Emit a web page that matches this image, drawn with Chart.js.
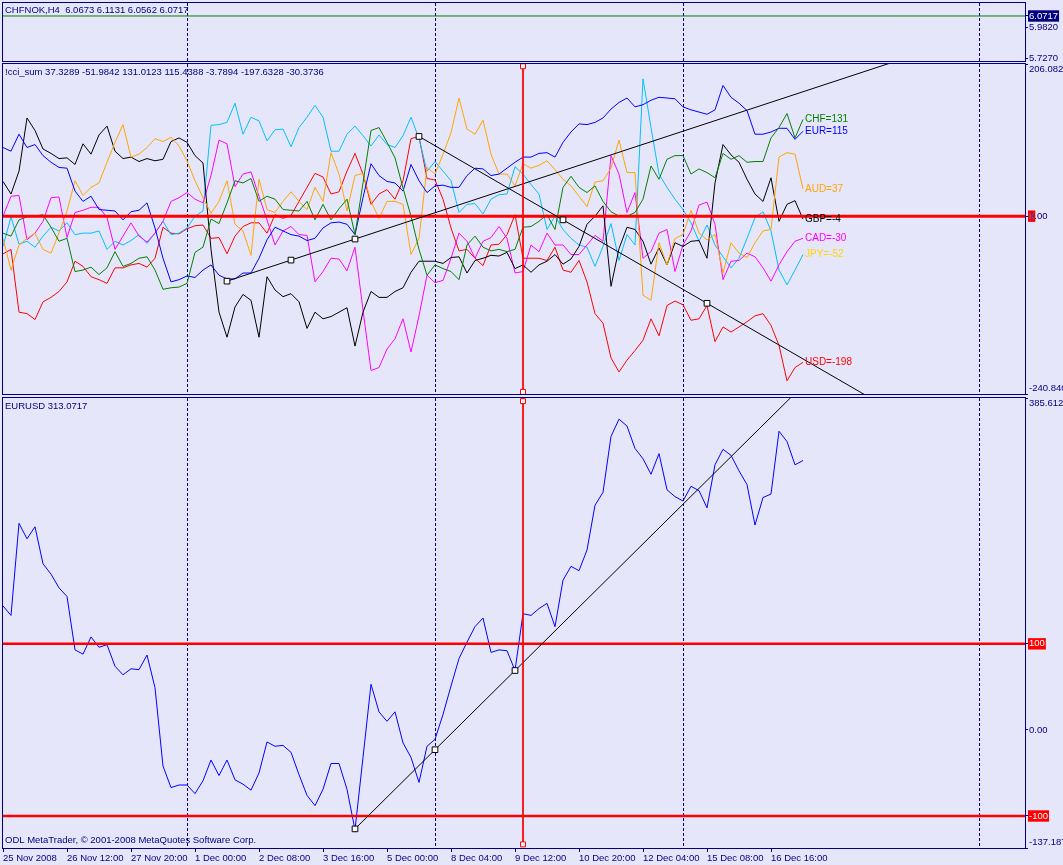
<!DOCTYPE html>
<html>
<head>
<meta charset="utf-8">
<title>CHFNOK,H4 - cci_sum / EURUSD</title>
<script src="https://cdn.jsdelivr.net/npm/chart.js@4.4.1/dist/chart.umd.min.js"></script>
<style>
  html, body { margin: 0; padding: 0; background: #e6e6fa; }
  body { width: 1063px; height: 865px; position: relative; overflow: hidden; }
  canvas { position: absolute; left: 0; }
</style>
</head>
<body>
<canvas id="pane-price" width="1063" height="62" style="top:0"></canvas>
<canvas id="pane-cci" width="1063" height="334" style="top:62px"></canvas>
<canvas id="pane-eurusd" width="1063" height="469" style="top:396px"></canvas>
<script>
// --- data (one value per H4 bar, bar 0 = 25 Nov 2008) ---

const timeTickBars = [0, 8, 16, 24, 32, 40, 48, 56, 64, 72, 80, 88, 96];
const timeTickLabels = ['25 Nov 2008', '26 Nov 12:00', '27 Nov 20:00', '1 Dec 00:00', '2 Dec 08:00', '3 Dec 16:00',
  '5 Dec 00:00', '8 Dec 04:00', '9 Dec 12:00', '10 Dec 20:00', '12 Dec 04:00', '15 Dec 08:00', '16 Dec 16:00'];
const weekSeparators = [23, 54, 85, 122];

// CHFNOK pane
const chfnokBid = 6.0717;
const priceTickValues = [6.0717, 5.9820, 5.7270];
const priceTickLabels = ['6.0717', '5.9820', '5.7270'];

// !cci_sum pane
const currencies = ['CHF', 'EUR', 'AUD', 'GBP', 'CAD', 'JPY', 'USD'];
const cciCHF = [-23, -27, -5, -1, 0, 2, -15, -34, -30, -75, -73, -69, -79, -70, -48, -68, -64, -57, -55, -73,
  -99, -97, -96, -91, -49, -42, -4, -10, 18, 48, 45, 51, 20, 27, 23, 9, 8, 7, 20, -5,
  16, -5, 10, 23, -25, 45, 116, 120, 100, 79, 38, 0, -45, -80, -66, -71, -75, -86, -39, -27,
  -42, -47, -45, -48, -45, -15, -14, -7, 2, -18, 39, 54, 39, 32, 41, 20, 6, 0, 0, 5,
  23, 68, 50, 77, 82, 82, 57, 64, 59, 52, 85, 77, 82, 73, 74, 74, 106, 120, 139, 106, 131];
const cciEUR = [93, 88, 111, 93, 97, 82, 73, 66, 65, 34, 20, 27, 9, 8, 7, -5, 6, 8, 18, -16,
  -57, -89, -86, -81, -83, -73, -66, -80, -85, -85, -77, -77, -57, -32, -15, -20, -25, -27, -33, -30,
  -16, -9, -8, -11, -25, 25, 71, 55, 47, 45, 34, 70, 48, 32, 41, 42, 39, 39, 55, 65,
  64, 55, 57, 65, 73, 80, 80, 85, 86, 80, 100, 114, 125, 124, 127, 133, 145, 154, 160, 148,
  151, 157, 161, 160, 159, 148, 144, 141, 138, 144, 177, 161, 153, 143, 111, 111, 114, 119, 119, 104, 115];
const cciAUD = [-30, -73, -39, -30, -23, -45, -50, -23, 7, 48, 28, 39, 45, 73, 100, 124, 80, 84, 93, 105,
  101, 107, 95, 75, 48, 25, 4, 20, 48, -11, -20, -53, 50, 9, 5, 20, 33, 20, 9, 39,
  20, 86, 57, 7, 55, 58, 20, -3, 20, 20, 16, -52, -30, 66, 57, 84, 113, 160, 118, 111,
  130, 84, 57, 57, 41, 71, 65, 69, 75, 63, 50, 41, 27, 13, 46, 48, 65, 103, 59, 59,
  -107, -114, -36, -66, -30, -25, 8, -23, -32, -25, -77, -36, -50, -56, -36, -20, -18, 80, 86, 84, 37];
const cciGBP = [47, 30, 61, 133, 116, 91, 85, 78, 79, 70, 98, 84, 110, 122, 88, 78, 80, 74, 78, 75,
  77, 101, 106, 100, 82, 72, -45, -130, -164, -123, -106, -114, -164, -82, -100, -109, -105, -116, -152, -130,
  -139, -136, -130, -124, -176, -130, -102, -110, -110, -102, -97, -76, -61, -61, -61, -64, -56, -55, -77, -60,
  -57, -53, -54, -49, -71, -66, -76, -66, -61, -52, -65, -58, -41, -11, 0, 14, -95, -44, -15, -18,
  -34, -65, -43, -66, -36, -41, -34, -33, -57, 45, 97, 83, 73, 50, 30, 20, 52, -7, 16, 21, -4];
const cciCAD = [0, 27, 28, -32, -23, -7, 25, 26, -29, 5, 8, 12, 12, -2, -45, -27, -9, -27, -35, -23,
  -7, 20, 25, 32, 23, 18, 55, 103, 98, 40, 57, 60, 27, -5, -39, -20, -14, -25, -26, -89,
  -75, -57, -58, -74, -42, -127, -209, -205, -180, -166, -139, -184, -135, -80, -90, -87, -57, -23, -34, -57,
  -34, -29, -14, -30, -77, -75, -39, -48, -23, -39, -39, -52, -52, -39, -26, -34, 82, 57, 5, 32,
  -57, -48, -23, -18, -75, -39, -20, 15, 19, -11, -86, -61, -60, -50, -55, -70, -88, -66, -48, -34, -30];
const cciJPY = [-41, -1, -38, -34, -42, -27, -15, -20, -9, -25, -23, -23, -20, -45, -34, -39, -33, -25, -37, -23,
  -7, -25, -23, -16, 0, 7, 123, 124, 127, 153, 111, 134, 129, 102, 117, 118, 94, 120, 134, 150,
  134, 88, 88, 111, 122, 109, 95, 110, 97, 93, 109, 134, 105, 61, 74, 61, 48, 5, 16, 17,
  3, 23, 29, 30, 67, 57, 43, 30, -18, 0, -18, -30, -39, -42, -68, -41, -10, -60, -25, -39,
  186, 120, 57, 39, 23, 9, -9, -34, -12, -39, -55, -70, -57, -30, -2, 6, -20, -73, -93, -73, -52];
const cciUSD = [-51, -45, -130, -132, -140, -116, -110, -102, -89, -61, -68, -82, -86, -91, -70, -70, -66, -64, -69, -57,
  -15, -23, -24, -17, -13, -12, -30, -29, -51, -27, -14, -9, -9, -23, 2, -3, 1, 20, 39, 58,
  53, 30, 33, 61, 85, 57, 16, 30, 36, 23, 48, 105, 108, 51, 49, 23, -16, -47, -45, -57,
  -67, -39, -38, -25, 2, -57, -57, -57, -60, -42, -73, -76, -60, -89, -132, -145, -192, -211, -195, -182,
  -168, -139, -162, -121, -115, -120, -141, -139, -121, -170, -150, -157, -150, -143, -135, -132, -148, -175, -223, -205, -198];
const cciLevels = [0];
const cciTickValues = [206.0825, 0, 0, -240.840];
const cciTickLabels = [['', '206.0825'], '0', '0.00', ['-240.840', '']];
// trend lines: [bar, value] anchors
const cciRayUp = [[28, -88], [44, -31]];
const cciRayDown = [[52, 108], [88, -118]];
const cursorBar = 65;
const cciCursorEnds = [203, -238];

// EURUSD pane
const eurusd = [144, 133, 240, 222, 236, 193, 181, 165, 155, 93, 88, 108, 96, 99, 74, 64, 71, 70, 87, 49,
  -42, -67, -64, -64, -74, -59, -35, -53, -35, -58, -63, -70, -50, -14, -19, -18, -26, -52, -76, -88,
  -69, -39, -39, -69, -116, -32, 53, 21, 10, 21, -15, -32, -61, -19, -11, 18, 51, 83, 102, 120,
  130, 90, 93, 92, 69, 135, 133, 141, 147, 120, 174, 190, 185, 209, 261, 276, 341, 361, 353, 327,
  315, 297, 321, 279, 271, 266, 283, 278, 258, 308, 326, 319, 301, 285, 238, 270, 274, 347, 335, 308, 313];
const eurLevels = [100, -100];
const eurTickValues = [385.6122, 100, 0, -100, -137.1873];
const eurTickLabels = [['', '385.6122'], '100', '0.00', '-100', ['-137.1873', '']];
const eurRay = [[44, -115], [64, 69]];
const eurCursorEnds = [382, -133];

// --- look ---
const NAVY = '#000080';
const X_MAX = 127.75;
const AXIS_W = 38;
const FONT = 'Tahoma, "Liberation Sans", Arial, sans-serif';
const lineColors = ['#008000', '#0000ff', '#ffa500', '#000000', '#ff00ff', '#00bfff', '#ff0000'];
const tagColors = ['#008000', '#0000ff', '#ffa500', '#000000', '#ff00ff', '#ffd700', '#ff0000'];
const priceTickBoxes = [NAVY, null, null];
const cciTickBoxes = ['', '#ff0000', '', ''];
const eurTickBoxes = ['', '#ff0000', '', '#ff0000', ''];

Chart.defaults.font.family = FONT;
Chart.defaults.font.size = 9.5;
Chart.defaults.color = NAVY;

const toXY = arr => arr.map((v, i) => ({ x: i, y: v }));

function levelLine(v, color, width) {
  return { data: [{ x: 0, y: v }, { x: X_MAX, y: v }], borderColor: color, borderWidth: width, pointRadius: 0 };
}

function rayLine(anchors) {
  const [a, b] = anchors;
  const slope = (b[1] - a[1]) / (b[0] - a[0]);
  return {
    data: [
      { x: a[0], y: a[1] },
      { x: (a[0] + b[0]) / 2, y: (a[1] + b[1]) / 2 },
      { x: b[0], y: b[1] },
      { x: X_MAX, y: b[1] + (X_MAX - b[0]) * slope }
    ],
    borderColor: '#000000', borderWidth: 1,
    pointStyle: 'rect', pointRadius: [4, 4, 4, 0],
    pointBackgroundColor: '#ffffff', pointBorderColor: '#000000', pointBorderWidth: 1
  };
}

function cursorLine(ends) {
  return {
    data: ends.map(v => ({ x: cursorBar, y: v })),
    borderColor: '#ff0000', borderWidth: 1,
    pointStyle: 'rect', pointRadius: 3.5,
    pointBackgroundColor: '#ffffff', pointBorderColor: '#ff0000', pointBorderWidth: 1
  };
}

function priceAxis(min, max, values, labels, boxes) {
  const boxed = c => !!boxes[c.index];
  return {
    position: 'right', min, max,
    afterBuildTicks(s) { s.ticks = values.map(v => ({ value: v })); },
    afterFit(s) { s.width = AXIS_W; s.paddingTop = 0; s.paddingBottom = 0; },
    ticks: {
      autoSkip: false, padding: 1,
      callback: (v, i) => labels[i],
      color: c => boxed(c) ? '#ffffff' : NAVY,
      showLabelBackdrop: c => boxed(c),
      backdropColor: c => boxes[c.index] || 'rgba(0,0,0,0)',
      backdropPadding: { left: 1, right: 1, top: 0, bottom: 0 }
    },
    grid: { drawOnChartArea: false, tickLength: 3, color: NAVY },
    border: { color: NAVY }
  };
}

function timeAxis(show) {
  if (!show) return { type: 'linear', min: 0, max: X_MAX, display: false };
  return {
    type: 'linear', min: 0, max: X_MAX,
    afterBuildTicks(s) { s.ticks = timeTickBars.map(v => ({ value: v })); },
    afterFit(s) { s.height = 17; s.paddingLeft = 0; s.paddingRight = 0; },
    ticks: { autoSkip: false, maxRotation: 0, align: 'start', padding: 1, callback: (v, i) => timeTickLabels[i] },
    grid: { drawOnChartArea: false, tickLength: 4, color: NAVY },
    border: { color: NAVY }
  };
}

// MT4 pane look: weekly dashed separators, frame, caption texts
const mtPane = {
  id: 'mtPane',
  beforeDatasetsDraw(chart) {
    const { ctx, chartArea: a, scales: { x } } = chart;
    ctx.save();
    ctx.strokeStyle = NAVY;
    ctx.lineWidth = 1;
    ctx.setLineDash([3, 2]);
    weekSeparators.forEach(b => {
      const px = Math.round(x.getPixelForValue(b)) + 0.5;
      if (px > a.right) return;
      ctx.beginPath();
      ctx.moveTo(px, a.top);
      ctx.lineTo(px, a.bottom);
      ctx.stroke();
    });
    ctx.restore();
  },
  afterDraw(chart, args, opts) {
    const { ctx, chartArea: a } = chart;
    ctx.save();
    ctx.strokeStyle = NAVY;
    ctx.lineWidth = 1;
    ctx.strokeRect(a.left - 0.5, a.top - 0.5, a.width + 1, a.height + 1);
    ctx.fillStyle = NAVY;
    ctx.font = '9.5px ' + FONT;
    ctx.textBaseline = 'middle';
    if (opts.caption) ctx.fillText(opts.caption, a.left + 2, a.top + opts.captionY);
    if (opts.footer) ctx.fillText(opts.footer, a.left + 2, a.bottom - 8);
    ctx.restore();
  }
};

// "CHF=131" style tags at the last bar of each currency line
const endTags = {
  id: 'endTags',
  afterDatasetsDraw(chart) {
    const { ctx } = chart;
    ctx.save();
    ctx.font = '10px ' + FONT;
    ctx.textBaseline = 'middle';
    chart.data.datasets.forEach((ds, i) => {
      if (!ds.tag) return;
      const pts = chart.getDatasetMeta(i).data;
      const p = pts[pts.length - 1];
      ctx.fillStyle = ds.tagColor;
      ctx.fillText(ds.tag + '=' + Math.round(ds.data[ds.data.length - 1].y), p.x + 2, p.y);
    });
    ctx.restore();
  }
};

function paneOptions(padding, pane, yAxis, showTime) {
  return {
    responsive: false,
    animation: false,
    events: [],
    layout: { padding, autoPadding: false },
    plugins: { legend: { display: false }, tooltip: { enabled: false }, mtPane: pane },
    scales: { x: timeAxis(showTime), y: yAxis }
  };
}

// --- top pane: CHFNOK ---
new Chart(document.getElementById('pane-price'), {
  type: 'line',
  data: { datasets: [levelLine(chfnokBid, '#008000', 1)] },
  options: paneOptions(
    { left: 3, top: 3, bottom: 1, right: 0 },
    { caption: 'CHFNOK,H4  6.0673 6.1131 6.0562 6.0717', captionY: 7 },
    priceAxis(5.7067, 6.177, priceTickValues, priceTickLabels, priceTickBoxes),
    false),
  plugins: [mtPane]
});

// --- middle pane: !cci_sum ---
const cciSeries = [cciCHF, cciEUR, cciAUD, cciGBP, cciCAD, cciJPY, cciUSD];
new Chart(document.getElementById('pane-cci'), {
  type: 'line',
  data: {
    datasets: [
      cursorLine(cciCursorEnds),
      rayLine(cciRayUp),
      rayLine(cciRayDown),
      ...cciLevels.map(v => levelLine(v, '#ff0000', 3)),
      ...cciSeries.map((s, i) => ({
        data: toXY(s),
        borderColor: lineColors[i], borderWidth: 1, pointRadius: 0,
        tag: currencies[i], tagColor: tagColors[i]
      }))
    ]
  },
  options: paneOptions(
    { left: 3, top: 2, bottom: 2, right: 0 },
    { caption: '!cci_sum 37.3289 -51.9842 131.0123 115.4388 -3.7894 -197.6328 -30.3736', captionY: 8 },
    priceAxis(-240.840, 206.0825, cciTickValues, cciTickLabels, cciTickBoxes),
    false),
  plugins: [mtPane, endTags]
});

// --- bottom pane: EURUSD ---
new Chart(document.getElementById('pane-eurusd'), {
  type: 'line',
  data: {
    datasets: [
      cursorLine(eurCursorEnds),
      rayLine(eurRay),
      ...eurLevels.map(v => levelLine(v, '#ff0000', 2.5)),
      { data: toXY(eurusd), borderColor: '#0000ff', borderWidth: 1, pointRadius: 0 }
    ]
  },
  options: paneOptions(
    { left: 3, top: 2, bottom: 0, right: 0 },
    { caption: 'EURUSD 313.0717', captionY: 8, footer: 'ODL MetaTrader, \u00a9 2001-2008 MetaQuotes Software Corp.' },
    priceAxis(-137.1873, 385.6122, eurTickValues, eurTickLabels, eurTickBoxes),
    true),
  plugins: [mtPane]
});
</script>
</body>
</html>
